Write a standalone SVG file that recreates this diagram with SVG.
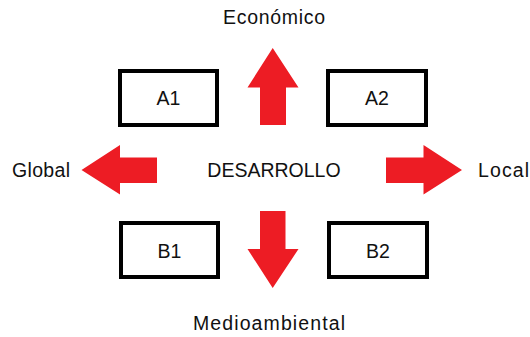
<svg xmlns="http://www.w3.org/2000/svg" width="530" height="337" viewBox="0 0 530 337">
<style>
.box{fill:#fff;stroke:#000;stroke-width:4}
.arrow{fill:#ED1C24}
text{font-family:"Liberation Sans",Arial,sans-serif;font-size:19.5px;fill:#111}
.c{text-anchor:middle}
</style>
<rect width="530" height="337" fill="#fff"/>
<g id="A1"><rect class="box" x="120" y="71" width="97" height="54"/><text class="c" x="168.5" y="105">A1</text></g>
<g id="A2"><rect class="box" x="328" y="71" width="98" height="54"/><text class="c" x="377" y="105">A2</text></g>
<g id="B1"><rect class="box" x="121" y="223" width="97" height="54"/><text class="c" x="169.5" y="257.5">B1</text></g>
<g id="B2"><rect class="box" x="329" y="223" width="98" height="54"/><text class="c" x="378" y="257.5">B2</text></g>
<g id="center"><text class="c" x="274" y="176.5" font-size="18.5">DESARROLLO</text></g>
<g id="economico"><text x="223" y="24" textLength="102" lengthAdjust="spacing">Económico</text></g>
<g id="medioambiental"><text x="193" y="330" textLength="152" lengthAdjust="spacing">Medioambiental</text></g>
<g id="global"><text x="12" y="177" textLength="58" lengthAdjust="spacing">Global</text></g>
<g id="local"><text x="478" y="177" textLength="51" lengthAdjust="spacing">Local</text></g>
<g id="connectors">
<polygon class="arrow" points="260,125 286,125 286,87.5 298.5,87.5 272.7,48 247.5,87.5 260,87.5"/>
<polygon class="arrow" points="260,211 285.5,211 285.5,249 298.5,249 272.7,288 247.5,249 260,249"/>
<polygon class="arrow" points="157,157.5 157,183 120,183 120,194.5 81.5,170 120,145 120,157.5"/>
<polygon class="arrow" points="386,157.5 386,183 423.5,183 423.5,194.5 462,170 423.5,145 423.5,157.5"/>
</g>
</svg>
